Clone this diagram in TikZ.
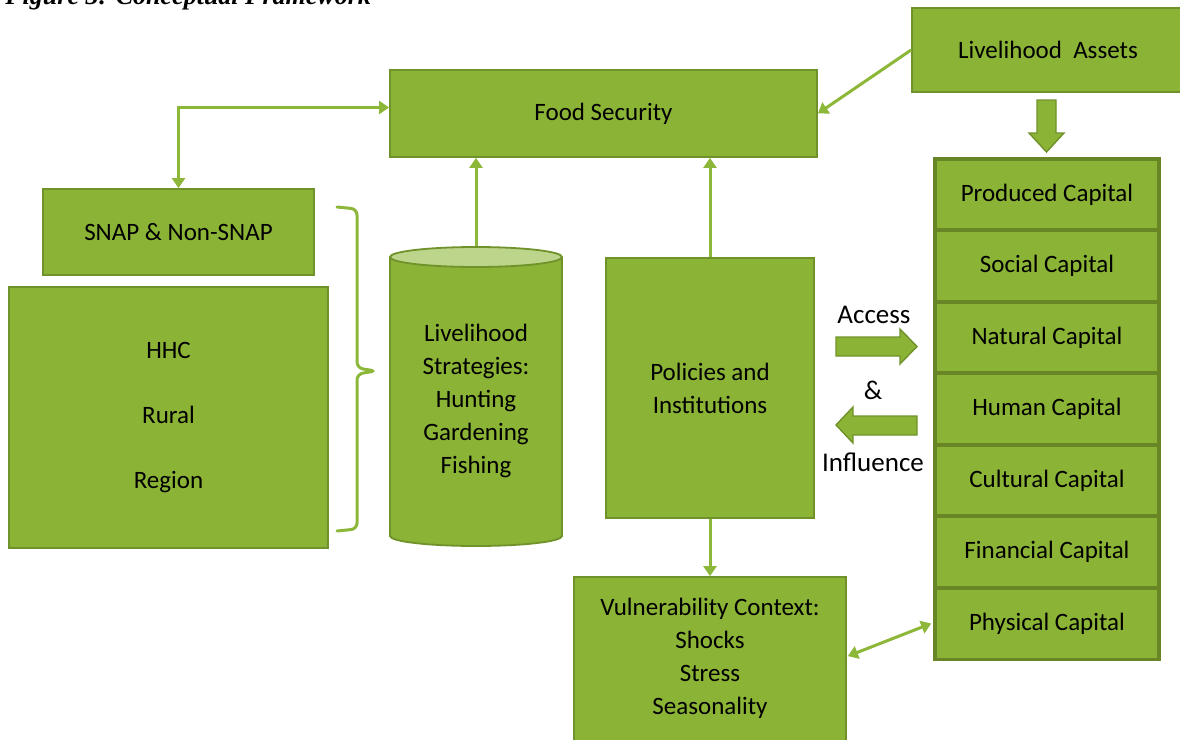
\documentclass[tikz,border=0pt]{standalone}
\usepackage{fontspec}
\setmainfont{Carlito}
\newfontfamily\capfont{Liberation Serif}
\usetikzlibrary{arrows.meta,calc,shapes.geometric}
\definecolor{leaf}{RGB}{139,179,54}
\definecolor{edge}{RGB}{112,146,42}
\definecolor{stackedge}{RGB}{104,134,38}
\definecolor{lidfill}{RGB}{189,212,139}
\definecolor{wire}{RGB}{140,183,56}
\newcommand\lblfont{\fontsize{12.5}{16.5}\selectfont}
\newcommand\bigfont{\fontsize{13.5}{16.5}\selectfont}
\begin{document}
\begin{tikzpicture}[x=0.5pt,y=-0.5pt,
  box/.style={draw=edge, line width=0.9pt, fill=leaf, inner sep=0pt, font=\lblfont, align=center},
  capbox/.style={draw=stackedge, line width=1.8pt, fill=leaf, inner sep=0pt, font=\lblfont,
              minimum width=112pt, minimum height=35.8pt},
  txt/.style={inner sep=0pt, font=\lblfont, align=center},
  conn/.style={draw=wire, line width=1.5pt, -{Triangle[length=5pt,width=6.5pt]}},
  both/.style={draw=wire, line width=1.5pt, {Triangle[length=5pt,width=6.5pt]}-{Triangle[length=5pt,width=6.5pt]}},
  blockarrow/.style={fill=leaf, draw=edge, line width=0.7pt, line join=miter},
  bracket/.style={draw=wire, line width=1.5pt, rounded corners=3pt, line cap=round}]
\useasboundingbox (0,0) rectangle (1180,740);
\clip (0,0) rectangle (1180,740);

% caption, cut by the top edge
\node[anchor=base west, inner sep=0pt, font=\capfont\bfseries\itshape\fontsize{13}{15}\selectfont]
  (title) at (5,4) {Figure 3: Conceptual Framework};

% main boxes
\node[box, minimum width=213.5pt, minimum height=43.5pt] (food) at (603.5,113.5) {Food Security};
\node[box, minimum width=136pt, minimum height=42pt] (assets) at (1048,50) {Livelihood\ \ Assets};
\node[box, minimum width=135.5pt, minimum height=43pt] (snap) at (178.5,232) {SNAP \& Non-SNAP};
\node[box, minimum width=159.5pt, minimum height=130.5pt] (hhc) at (168.5,417.5)
  {HHC\\[16pt]Rural\\[16pt]Region};
\node[box, minimum width=104pt, minimum height=130pt] (pol) at (710,388) {Policies and\\Institutions};
\node[box, minimum width=136pt, minimum height=106.5pt] (vuln) at (710,683.5) {};
\node[txt] (vulntext) at (710,658) {Vulnerability Context:\\Shocks\\Stress\\Seasonality};

% cylinder: livelihood strategies
\node[ellipse, draw=edge, line width=0.9pt, fill=leaf, minimum width=86pt, minimum height=10pt, inner sep=0pt]
  (cylbase) at (476,536) {};
\fill[leaf] (390,257) rectangle (562,536);
\draw[edge, line width=0.9pt] (390,257) -- (390,536) (562,257) -- (562,536);
\node[ellipse, draw=edge, line width=0.9pt, fill=lidfill, minimum width=86pt, minimum height=10pt, inner sep=0pt]
  (cyltop) at (476,257) {};
\node[txt] (strat) at (476,401) {Livelihood\\Strategies:\\Hunting\\Gardening\\Fishing};

% curly bracket grouping the household boxes
\draw[bracket] (337,207) -- (357,209) -- (357,368) -- (376,371) -- (357,374) -- (357,529) -- (337,531);

% stack of capitals
\node[capbox] (c1) at (1047,194.5) {Produced Capital};
\node[capbox] (c2) at (1047,266) {Social Capital};
\node[capbox] (c3) at (1047,337.5) {Natural Capital};
\node[capbox] (c4) at (1047,409) {Human Capital};
\node[capbox] (c5) at (1047,480.5) {Cultural Capital};
\node[capbox] (c6) at (1047,552) {Financial Capital};
\node[capbox] (c7) at (1047,623.5) {Physical Capital};

% block arrows
\draw[blockarrow] (1037,100) -- (1056,100) -- (1056,133) -- (1064,133) -- (1046.5,152)
  -- (1029,133) -- (1037,133) -- cycle;
\draw[blockarrow] (836,337) -- (900,337) -- (900,329) -- (917,346.5) -- (900,364)
  -- (900,356) -- (836,356) -- cycle;
\draw[blockarrow] (917,416) -- (853,416) -- (853,407) -- (836,425) -- (853,443)
  -- (853,435) -- (917,435) -- cycle;
\node[txt, font=\bigfont] (access) at (874,315) {Access};
\node[txt, font=\bigfont] (amp) at (873,390) {\&};
\node[txt, font=\bigfont] (influence) at (873,462) {Influence};

% connectors
\draw[both] (snap.north) |- ([yshift=3pt]food.west);
\draw[conn] (assets.west) -- (food.east);
\draw[conn] (cyltop.north) -- (cyltop.north |- food.south);
\draw[conn] (pol.north) -- (pol.north |- food.south);
\draw[conn] (pol.south) -- (pol.south |- vuln.north);
\draw[both] ($(vuln.north east)+(1,80)$) -- ([xshift=-1pt]c7.west);
\end{tikzpicture}
\end{document}
